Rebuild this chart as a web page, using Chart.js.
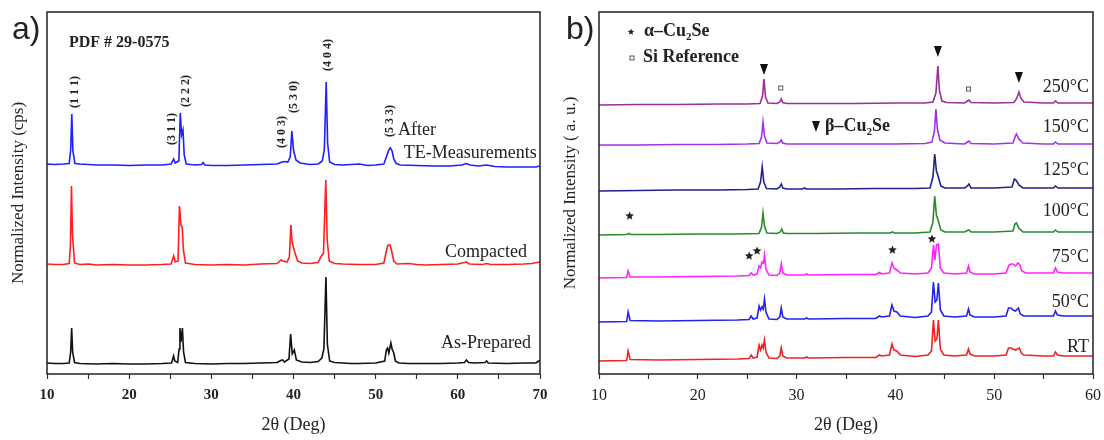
<!DOCTYPE html>
<html>
<head>
<meta charset="utf-8">
<script src="https://cdn.jsdelivr.net/npm/chart.js@4.4.1/dist/chart.umd.min.js"></script>
<style>
html,body{margin:0;padding:0;background:#fff;}
#wrap{position:relative;width:1104px;height:440px;}
.panel{position:absolute;top:0;width:552px;height:440px;}
</style>
</head>
<body>
<div id="wrap">
  <div class="panel" style="left:0"><canvas id="chartA" width="552" height="440"></canvas></div>
  <div class="panel" style="left:552px"><canvas id="chartB" width="552" height="440"></canvas></div>
</div>
<script>
// ---- panel a: [2theta, intensity above baseline]
const asPrepared = [[10,1],[11,0.5],[12,0.5],[12.7,1],[12.88,12],[13.0,36],[13.12,12],[13.35,1.5],[14,0.5],[16,0],[18,0.5],[20,0],[22,0],[24,0.5],[25.15,1],[25.3,5],[25.4,8],[25.55,3],[25.9,1.5],[26.08,15],[26.18,36],[26.3,22],[26.48,36],[26.62,12],[26.85,1.5],[28,0.5],[30,0],[32,0.5],[34,0.5],[36,1],[38,1.5],[38.45,3.5],[38.65,4],[38.9,2],[39.45,5],[39.65,30],[39.85,10],[40.1,14],[40.35,4],[41,2],[42,1.5],[43,2.5],[43.45,6],[43.7,15],[43.95,87],[44.12,20],[44.4,3],[45,1.5],[46,1],[47,0.5],[48,0.5],[50,1],[51.1,3],[51.3,14],[51.45,16],[51.6,11],[51.85,21],[52.0,15],[52.2,11],[52.4,3],[52.8,1],[54,0.5],[56,0.5],[58,0.5],[60,1],[60.8,1.5],[61.05,4],[61.3,1.5],[62,1],[63.3,1.5],[63.5,3],[63.7,1],[66,0.5],[68,1],[69.5,1],[69.85,3],[70,4]];
const compacted = [[10,1],[11,0.5],[12,0.5],[12.7,1.5],[12.85,20],[12.98,79],[13.1,30],[13.35,2],[14,0.5],[15,1],[16,0],[18,0.5],[20,0],[22,0],[24,0.5],[25.1,1],[25.3,6],[25.42,9],[25.6,3],[25.95,4],[26.12,59],[26.3,40],[26.45,38],[26.6,15],[26.85,2],[28,0.5],[30,0],[32,0.5],[34,0],[36,1],[38,1.5],[38.5,5],[38.7,4],[39.2,3],[39.5,8],[39.68,40],[39.85,22],[40.15,13],[40.5,4],[41,2],[42,1.5],[43,2.5],[43.4,9],[43.65,12],[43.93,85],[44.1,25],[44.35,4],[45,1.5],[46,1],[48,0.5],[50,0.5],[51.0,2],[51.25,12],[51.5,20],[51.75,20],[51.95,14],[52.2,4],[52.6,1],[54,1.5],[55,0.5],[56,0],[58,0.5],[60,1],[60.8,2.5],[61.05,3],[61.4,1],[63,0.5],[63.5,1.5],[64,0.5],[66,0.5],[68,1],[69,1.5],[70,3]];
const afterTE = [[10,1],[11,0.5],[12,1],[12.7,1.5],[12.88,15],[13.02,51],[13.15,14],[13.4,1.5],[14,1],[15,0.5],[16,0],[18,0],[20,-0.5],[22,0],[24,0],[25.1,1],[25.3,4],[25.42,6],[25.6,2],[26.05,4],[26.22,52],[26.38,30],[26.55,35],[26.7,10],[26.95,1],[28,0],[28.8,0.5],[29.0,2.5],[29.2,0],[30,-0.5],[32,-0.5],[34,0],[36,0.5],[38,1],[38.6,3],[38.9,3.5],[39.3,3],[39.6,8],[39.8,34],[40.0,15],[40.3,5],[40.8,2],[42,0.5],[43,1],[43.5,4],[43.75,15],[43.98,83],[44.15,22],[44.4,3],[45,0.5],[46,0],[48,1],[49,-0.5],[50,0],[51.0,1],[51.3,8],[51.6,15],[51.8,17],[52.0,14],[52.2,6],[52.5,1.5],[53,0],[55,-0.5],[57,-1],[59,-1],[60.5,0],[61,1.5],[61.5,0],[62.5,-1],[63.5,0],[64.5,-1.5],[66,-2],[68,-2],[69.5,-2],[70,-1]];
const seriesA = ['As-Prepared','Compacted','After TE-Measurements'];
const offsetsA = [10, 109, 209];
const colorsA = ['#111111','#ff1f1f','#1f1fff'];

const millerLabels = ['(1 1 1)','(3 1 1)','(2 2 2)','(4 0 3)','(5 3 0)','(4 0 4)','(5 3 3)'];
const millerX = [13.4, 25.2, 26.9, 38.6, 40.06, 44.2, 51.7];
const millerY = [266, 229, 267, 226, 261, 303, 237];

// ---- panel b
const t250 = [[10,0],[14,0.5],[18,0.5],[22,1],[25,1],[26.3,1.5],[26.55,9],[26.7,26],[26.85,8],[27.1,2],[28.0,1.5],[28.3,3],[28.45,6],[28.6,2.5],[29,1.5],[32,1.5],[36,1.5],[40,2],[43,2],[43.8,3],[44.1,12],[44.3,39],[44.45,15],[44.7,4],[45.2,2.5],[47,2],[47.3,4],[47.45,5],[47.65,2.5],[50,2],[52,2.5],[52.3,7],[52.5,13],[52.7,7],[53,3],[55,2],[56,2],[56.2,4],[56.45,2],[60,2]];
const t150 = [[10,0],[14,0],[18,0.5],[22,0.5],[25,1],[26.2,1.5],[26.45,8],[26.6,23],[26.75,9],[27.0,2],[28.0,1.5],[28.3,3],[28.45,5],[28.6,2],[29,1],[32,1],[36,1],[40,1],[43,1.5],[43.7,3],[43.95,14],[44.1,36],[44.25,16],[44.5,5],[45,2],[47,1],[47.3,3],[47.45,4],[47.65,1.5],[50,1],[51.9,2],[52.1,8],[52.25,11],[52.5,6],[52.9,2],[55,1],[56,1],[56.2,3],[56.45,1],[60,1]];
const t125 = [[10,0],[14,0.5],[18,1],[22,1],[25,1.5],[26.1,2],[26.35,9],[26.52,24],[26.68,9],[26.95,2.5],[28.0,2],[28.3,4],[28.45,7],[28.6,3],[29,2],[30.6,2],[30.8,3],[31,2],[34,2],[38,2.5],[42,2.5],[43.5,3],[43.8,14],[43.98,37],[44.15,20],[44.35,14],[44.6,5],[45,3],[47,3],[47.3,5],[47.45,7],[47.65,3],[50,3],[51.8,4],[52.05,12],[52.2,11],[52.5,6],[52.9,3],[55,3],[56,3],[56.2,5],[56.45,3],[60,3]];
const t100 = [[10,0],[12.8,0.5],[13.0,1.5],[13.2,0.5],[16,0.5],[20,1],[24,1],[26.2,1.5],[26.45,8],[26.6,22],[26.75,9],[27.0,2],[28,1.5],[28.35,3],[28.5,6],[28.65,2],[29,1.5],[32,1.5],[36,2],[39.5,2],[39.7,3],[39.9,2],[42,2],[43.5,3],[43.8,13],[43.98,39],[44.15,20],[44.35,14],[44.6,5],[45,3],[47,3],[47.3,4.5],[47.45,5],[47.65,3],[50,3],[51.9,4],[52.1,11],[52.25,12],[52.5,7],[52.9,3],[55,3],[56,3],[56.2,5],[56.45,3],[60,3]];
const t75 = [[10,0],[12.8,0.5],[12.95,7],[13.15,1],[16,1],[20,1.5],[24,2],[25.2,2.5],[25.4,5],[25.6,3],[26.0,4],[26.2,12],[26.35,10],[26.5,16],[26.65,15],[26.75,23],[26.9,9],[27.2,3],[28,2.5],[28.3,5],[28.45,14],[28.6,5],[29,3],[30.8,3],[31,4],[31.2,3],[35,3.5],[38,3.5],[38.4,5.5],[38.6,4],[39.4,5],[39.65,15],[39.85,10],[40.15,8],[40.5,5],[42,4],[43.3,5],[43.65,10],[43.85,33],[44.0,18],[44.15,33],[44.35,34],[44.55,10],[44.9,5],[46,4],[47.2,5],[47.4,12],[47.55,6],[48,4],[50,4],[51.2,5],[51.5,13],[51.75,14],[51.9,14],[52.15,12],[52.4,15],[52.6,13],[52.8,7],[53.2,5],[55,5],[56.0,5],[56.2,10],[56.4,6],[57,5],[60,5]];
const t50 = [[10,0],[12.8,0.5],[12.95,10],[13.15,1.5],[16,1],[20,1.5],[24,2],[25.2,2.5],[25.4,6],[25.6,3],[26.0,4],[26.2,16],[26.35,12],[26.5,15],[26.62,13],[26.75,23],[26.9,10],[27.2,3],[28,2.5],[28.3,5],[28.45,14],[28.6,5],[29,3],[30.8,3],[31,4],[31.2,3],[35,3.5],[38,3.5],[38.4,6],[38.6,5],[39.4,6],[39.65,17],[39.85,11],[40.15,10],[40.5,6],[42,4.5],[43.3,6],[43.65,10],[43.85,40],[44.02,20],[44.2,22],[44.35,39],[44.55,12],[44.9,6],[46,5],[47.2,6],[47.4,13],[47.55,7],[48,5],[50,5],[51.2,6],[51.45,14],[51.7,14],[51.9,12],[52.15,11],[52.45,14],[52.65,8],[53,6],[55,6],[56.0,6],[56.2,11],[56.4,7],[57,6],[60,6]];
const tRT = [[10,0],[12.8,0.5],[12.95,10],[13.15,1.5],[16,1],[20,1.5],[24,2],[25.2,2.5],[25.4,6],[25.6,3],[26.0,4],[26.2,16],[26.35,11],[26.5,16],[26.62,13],[26.75,21],[26.9,9],[27.2,3],[28,2.5],[28.3,5],[28.45,13],[28.6,5],[29,3],[30.8,3],[31,4],[31.2,3],[35,3.5],[38,3.5],[38.4,6],[38.6,5],[39.4,6],[39.65,17],[39.85,11],[40.15,10],[40.5,6],[42,4.5],[43.3,6],[43.65,10],[43.85,41],[44.02,20],[44.2,22],[44.35,41],[44.55,12],[44.9,6],[46,5],[47.2,6],[47.4,12],[47.55,7],[48,5],[50,5],[51.2,6],[51.45,13],[51.7,13],[51.9,12],[52.15,11],[52.55,13],[52.75,8],[53,6],[55,5],[56.0,5],[56.2,9],[56.4,6],[57,5],[60,5]];
const tempLabels = ['RT','50°C','75°C','100°C','125°C','150°C','250°C'];
const offsetsB = [13, 52, 96, 139, 183, 229, 269];
const colorsB = ['#ee2222','#2222ee','#ff22ff','#2a8a2a','#22228a','#a033e8','#9a2f9a'];
const tempLabelY = [27, 72, 117, 163, 204, 247, 287];

const triX = [26.7, 44.3, 52.5], triY = [305, 323, 297];
const siX = [28.4, 47.4], siY = [286, 285];
const starX = [13.1, 25.2, 26.0, 39.7, 43.7], starY = [158, 118, 123, 124, 135];

const SERIF = '"Liberation Serif", "Times New Roman", serif';
const INK = '#222';

function mkSet(label, pts, off, color){
  return {label, data: pts.map(p => ({x: p[0], y: p[1] + off})), borderColor: color,
    borderWidth: 1.6, pointRadius: 0, tension: 0, fill: false};
}

function text(ctx, s, x, y, font, align){
  ctx.font = font; ctx.fillStyle = INK; ctx.textAlign = align || 'left'; ctx.textBaseline = 'middle';
  ctx.fillText(s, x, y);
}

function cuSe(ctx, pre, x, y){
  // "α–Cu" + subscript 2 + "Se"
  const f = 'bold 18px ' + SERIF;
  ctx.font = f; ctx.fillStyle = INK; ctx.textAlign = 'left'; ctx.textBaseline = 'middle';
  ctx.fillText(pre + 'Cu', x, y);
  let w = ctx.measureText(pre + 'Cu').width;
  ctx.font = 'bold 11px ' + SERIF;
  ctx.fillText('2', x + w, y + 6);
  w += ctx.measureText('2').width;
  ctx.font = f;
  ctx.fillText('Se', x + w, y);
}

function star(ctx, cx, cy, r){
  ctx.beginPath();
  for(let i = 0; i < 10; i++){
    const a = -Math.PI/2 + i*Math.PI/5, rr = i % 2 ? r*0.45 : r;
    ctx.lineTo(cx + rr*Math.cos(a), cy + rr*Math.sin(a));
  }
  ctx.closePath(); ctx.fillStyle = INK; ctx.fill();
}
function tri(ctx, cx, cy){
  ctx.beginPath(); ctx.moveTo(cx - 4, cy - 5); ctx.lineTo(cx + 4, cy - 5); ctx.lineTo(cx, cy + 6);
  ctx.closePath(); ctx.fillStyle = '#111'; ctx.fill();
}
function sq(ctx, cx, cy){
  ctx.strokeStyle = '#555'; ctx.lineWidth = 1; ctx.strokeRect(cx - 2, cy - 2, 4, 4);
}

const frame = {
  id: 'frame',
  afterDraw(chart){
    const {ctx, chartArea: a} = chart;
    ctx.save();
    ctx.strokeStyle = '#222'; ctx.lineWidth = 1.5;
    ctx.strokeRect(a.left, a.top, a.right - a.left, a.bottom - a.top);
    ctx.restore();
  }
};

function baseOpts(xMax, tickFont, yTitle, padRight){
  return {
    responsive: false, animation: false,
    layout: {padding: {left: 0, right: padRight, top: 12, bottom: 0}},
    plugins: {legend: {display: false}, tooltip: {enabled: false}},
    scales: {
      x: {type: 'linear', min: 10, max: xMax,
        ticks: {stepSize: 5, autoSkip: false, maxRotation: 0, padding: 7, color: INK, font: tickFont,
          callback: v => v % 10 === 0 ? v : ''},
        grid: {display: true, drawOnChartArea: false, drawTicks: true, tickLength: 5, tickColor: '#333', tickWidth: 1.2},
        border: {display: false},
        title: {display: true, text: '2θ (Deg)', color: INK, font: {family: SERIF, size: 18}, padding: {top: 0, bottom: 4}},
        afterFit: s => { s.height = 66; s.paddingLeft = 0; s.paddingRight = 0; }},
      y: {type: 'linear', min: 0, max: 362,
        ticks: {display: false}, grid: {display: false}, border: {display: false},
        title: {display: true, text: yTitle, color: INK, font: {family: SERIF, size: 17}, padding: {top: 8, bottom: 0}},
        afterFit: s => { s.width = 47; }}
    }
  };
}

// ---- chart a
const marksA = {
  id: 'marksA',
  afterDraw(chart){
    const {ctx} = chart, X = v => chart.scales.x.getPixelForValue(v), Y = v => chart.scales.y.getPixelForValue(v);
    ctx.save();
    text(ctx, 'a)', 12, 30, '32px "Liberation Sans", Arial, sans-serif');
    text(ctx, 'PDF # 29-0575', X(12.68), Y(331), 'bold 16px ' + SERIF);
    millerLabels.forEach((s, i) => {
      ctx.save(); ctx.translate(X(millerX[i]), Y(millerY[i])); ctx.rotate(-Math.PI/2);
      text(ctx, s, 0, 0, 'bold 12px ' + SERIF); ctx.restore();
    });
    text(ctx, 'After', X(52.72), Y(244), '18px ' + SERIF);
    text(ctx, 'TE-Measurements', X(69.6), Y(221), '18px ' + SERIF, 'right');
    text(ctx, 'Compacted', X(68.42), Y(122), '18px ' + SERIF, 'right');
    text(ctx, 'As-Prepared', X(68.9), Y(31), '18px ' + SERIF, 'right');
    ctx.restore();
  }
};
new Chart(document.getElementById('chartA'), {
  type: 'line',
  data: {datasets: [asPrepared, compacted, afterTE].map((d, i) => mkSet(seriesA[i], d, offsetsA[i], colorsA[i]))},
  options: baseOpts(70, {family: SERIF, size: 15, weight: 'bold'}, 'Normalized Intensity (cps)', 12),
  plugins: [frame, marksA]
});

// ---- chart b
const marksB = {
  id: 'marksB',
  afterDraw(chart){
    const {ctx, chartArea: a} = chart, X = v => chart.scales.x.getPixelForValue(v), Y = v => chart.scales.y.getPixelForValue(v);
    ctx.save();
    text(ctx, 'b)', 14, 30, '32px "Liberation Sans", Arial, sans-serif');
    star(ctx, X(13.24), Y(342), 3.5);
    cuSe(ctx, 'α–', X(14.55), Y(343));
    sq(ctx, X(13.34), Y(316));
    text(ctx, 'Si Reference', X(14.45), Y(317), 'bold 18px ' + SERIF);
    tri(ctx, X(31.96), Y(248));
    cuSe(ctx, 'β–', X(32.87), Y(248));
    triX.forEach((x, i) => tri(ctx, X(x), Y(triY[i])));
    siX.forEach((x, i) => sq(ctx, X(x), Y(siY[i])));
    starX.forEach((x, i) => star(ctx, X(x), Y(starY[i]), 4.5));
    tempLabels.forEach((s, i) => text(ctx, s, a.right - 4, Y(tempLabelY[i]), '18px ' + SERIF, 'right'));
    ctx.restore();
  }
};
new Chart(document.getElementById('chartB'), {
  type: 'line',
  data: {datasets: [tRT, t50, t75, t100, t125, t150, t250].map((d, i) => mkSet(tempLabels[i], d, offsetsB[i], colorsB[i]))},
  options: baseOpts(60, {family: SERIF, size: 16}, 'Normalized Intensity ( a. u.)', 11),
  plugins: [frame, marksB]
});
</script>
</body>
</html>
